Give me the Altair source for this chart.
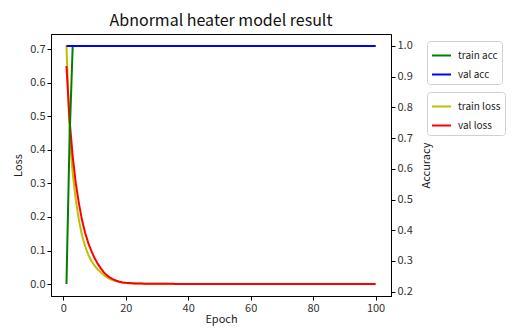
import altair as alt
import pandas as pd

epochs = list(range(1, 101))

train_acc = [0.225, 0.70] + [1.0] * 98
val_acc = [1.0] * 100

train_loss = [
    0.711, 0.450, 0.330, 0.250, 0.190, 0.145, 0.112, 0.088, 0.069, 0.055,
    0.044, 0.035, 0.027, 0.020, 0.015, 0.011, 0.008, 0.006, 0.0045, 0.0035,
    0.0028, 0.0023, 0.0019, 0.0016, 0.0014, 0.0012, 0.0011, 0.0010, 0.0009, 0.0008,
    0.0008, 0.0007, 0.0007, 0.0006, 0.0006, 0.0006, 0.0005, 0.0005, 0.0005, 0.0005,
    0.0004, 0.0004, 0.0004, 0.0004, 0.0004, 0.0003, 0.0003, 0.0003, 0.0003, 0.0003,
    0.0003, 0.0003, 0.0003, 0.0002, 0.0002, 0.0002, 0.0002, 0.0002, 0.0002, 0.0002,
    0.0002, 0.0002, 0.0002, 0.0002, 0.0002, 0.0002, 0.0002, 0.0001, 0.0001, 0.0001,
    0.0001, 0.0001, 0.0001, 0.0001, 0.0001, 0.0001, 0.0001, 0.0001, 0.0001, 0.0001,
    0.0001, 0.0001, 0.0001, 0.0001, 0.0001, 0.0001, 0.0001, 0.0001, 0.0001, 0.0001,
    0.0001, 0.0001, 0.0001, 0.0001, 0.0001, 0.0001, 0.0001, 0.0001, 0.0001, 0.0001,
]
val_loss = [
    0.650, 0.490, 0.380, 0.300, 0.240, 0.190, 0.152, 0.122, 0.098, 0.078,
    0.061, 0.047, 0.035, 0.026, 0.019, 0.014, 0.010, 0.007, 0.005, 0.0038,
    0.0030, 0.0024, 0.0020, 0.0017, 0.0015, 0.0013, 0.0012, 0.0011, 0.0010, 0.0009,
    0.0009, 0.0008, 0.0008, 0.0007, 0.0007, 0.0006, 0.0006, 0.0006, 0.0005, 0.0005,
    0.0005, 0.0005, 0.0004, 0.0004, 0.0004, 0.0004, 0.0004, 0.0003, 0.0003, 0.0003,
    0.0003, 0.0003, 0.0003, 0.0003, 0.0003, 0.0002, 0.0002, 0.0002, 0.0002, 0.0002,
    0.0002, 0.0002, 0.0002, 0.0002, 0.0002, 0.0002, 0.0002, 0.0002, 0.0002, 0.0002,
    0.0002, 0.0001, 0.0001, 0.0001, 0.0001, 0.0001, 0.0001, 0.0001, 0.0001, 0.0001,
    0.0001, 0.0001, 0.0001, 0.0001, 0.0001, 0.0001, 0.0001, 0.0001, 0.0001, 0.0001,
    0.0001, 0.0001, 0.0001, 0.0001, 0.0001, 0.0001, 0.0001, 0.0001, 0.0001, 0.0001,
]

acc_names = ["train acc", "val acc"]
acc_colors = ["#008000", "#0000ff"]
loss_names = ["train loss", "val loss"]
loss_colors = ["#bfbf00", "#ff0000"]

loss_df = pd.concat([
    pd.DataFrame({"epoch": epochs, "value": train_loss, "series": loss_names[0]}),
    pd.DataFrame({"epoch": epochs, "value": val_loss, "series": loss_names[1]}),
])
acc_df = pd.concat([
    pd.DataFrame({"epoch": epochs, "value": train_acc, "series": acc_names[0]}),
    pd.DataFrame({"epoch": epochs, "value": val_acc, "series": acc_names[1]}),
])

FONT = "Noto Sans CJK KR"
x_enc = alt.X("epoch:Q",
              scale=alt.Scale(domain=[-3.95, 104.95], nice=False, zero=False),
              axis=alt.Axis(title="Epoch", values=[0, 20, 40, 60, 80, 100], format="d",
                            grid=False, tickSize=4, labelPadding=2, titlePadding=0))

legend_common = dict(
    symbolType="stroke", symbolSize=361, symbolStrokeWidth=2,
    labelFont=FONT, labelFontSize=10, labelColor="#222", labelOffset=6,
    strokeColor="#d0d0d0", fillColor="white", cornerRadius=3, padding=4,
    rowPadding=3, title=None, orient="none",
)

loss_chart = alt.Chart(loss_df).mark_line(strokeWidth=2).encode(
    x=x_enc,
    y=alt.Y("value:Q",
            scale=alt.Scale(domain=[-0.0355, 0.7455], nice=False, zero=False),
            axis=alt.Axis(title="Loss", orient="left", values=[0, 0.1, 0.2, 0.3, 0.4, 0.5, 0.6, 0.7],
                          format=".1f", grid=False, tickSize=4, titlePadding=6)),
    color=alt.Color("series:N", scale=alt.Scale(domain=loss_names, range=loss_colors),
                    sort=loss_names,
                    legend=alt.Legend(legendX=376, legendY=58, **legend_common)),
    detail="series:N",
)

acc_chart = alt.Chart(acc_df).mark_line(strokeWidth=2).encode(
    x=x_enc,
    y=alt.Y("value:Q",
            scale=alt.Scale(domain=[0.186, 1.039], nice=False, zero=False),
            axis=alt.Axis(title="Accuracy", orient="right", titleAngle=270,
                          values=[0.2, 0.3, 0.4, 0.5, 0.6, 0.7, 0.8, 0.9, 1.0],
                          format=".1f", grid=False, tickSize=4, titlePadding=19)),
    color=alt.Color("series:N", scale=alt.Scale(domain=acc_names, range=acc_colors),
                    sort=acc_names,
                    legend=alt.Legend(legendX=376, legendY=7, **legend_common)),
    detail="series:N",
)

chart = alt.layer(loss_chart, acc_chart).resolve_scale(
    y="independent", color="independent"
).properties(
    width=340, height=262,
    autosize=alt.AutoSizeParams(type="none"),
    padding={"left": 43, "top": 26, "right": 116, "bottom": 30},
    title=alt.Title("Abnormal heater model result", font=FONT, fontSize=16,
                    fontWeight="normal", color="#111", frame="group", anchor="middle", offset=5),
).configure_view(
    stroke="black", strokeWidth=1
).configure_axis(
    domainColor="black", tickColor="black", labelFont=FONT, labelFontSize=11,
    labelColor="#333", titleFont=FONT, titleFontSize=11, titleFontWeight="normal",
    titleColor="#222",
)

chart.save("out.html", embed_options={"renderer": "svg", "actions": False})
